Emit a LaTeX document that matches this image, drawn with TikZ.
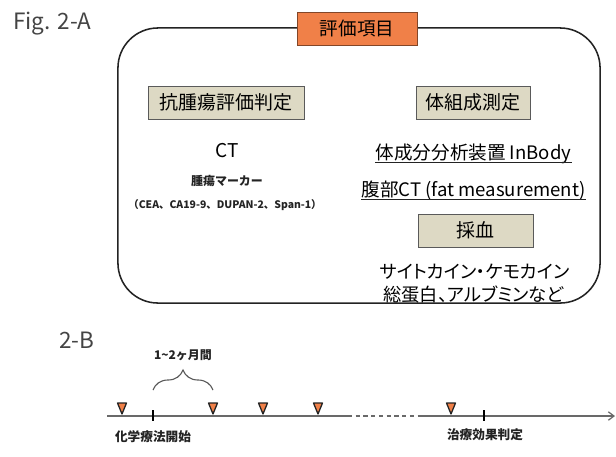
\documentclass[tikz,border=0pt]{standalone}
\usepackage{fontspec}
\setmainfont{Noto Sans CJK JP}
\newfontfamily\jpprop[RawFeature=+palt]{Noto Sans CJK JP}
\usepackage{xcolor}
\definecolor{evalorange}{RGB}{240,128,72}
\definecolor{evalorangedark}{RGB}{130,70,40}
\definecolor{evaltan}{RGB}{221,217,196}
\definecolor{evalgray}{RGB}{90,90,90}
\definecolor{evalline}{RGB}{105,105,105}
\definecolor{evalink}{RGB}{35,35,35}
\usetikzlibrary{arrows.meta,positioning,decorations.pathreplacing,calc}

\begin{document}
\begin{tikzpicture}[x=0.025cm,y=-0.025cm,
  figlabel/.style={anchor=base west,inner sep=0pt,text=evalink!85,font=\fontsize{16}{18}\selectfont},
  evalframe/.style={draw=evalink,line width=1.1pt,rounded corners=1cm,
    minimum width=12.05cm,minimum height=6.875cm,inner sep=0pt},
  titlebox/.style={draw=evalorangedark,fill=evalorange,line width=0.6pt,
    minimum width=3cm,minimum height=0.825cm,inner sep=0pt,font=\fontsize{13.2}{16}\selectfont},
  headbox/.style={draw=evalgray,fill=evaltan,line width=0.6pt,
    minimum height=0.825cm,inner sep=0pt,font=\fontsize{13.5}{16}\selectfont},
  itemtext/.style={inner sep=0pt,text=black,font=\fontsize{13.2}{16}\selectfont},
  smalltext/.style={inner sep=0pt,text=evalink,font=\fontsize{8.5}{10}\selectfont\bfseries},
  uline/.style={draw=evalink,line width=0.6pt},
  timeline/.style={draw=evalline,line width=0.9pt},
  tickmark/.style={fill=black,minimum width=1.4pt,minimum height=0.275cm,inner sep=0pt},
  trimark/.style={draw=evalink,fill=evalorange,line width=0.9pt,line join=round},
  tllabel/.style={inner sep=0pt,text=evalink,font=\fontsize{9}{11}\selectfont\bfseries}
]
\useasboundingbox (0,0) rectangle (616,456);

% Fig. 2-A: evaluation items
\node[figlabel] (figA) at (13,29) {Fig. 2-A};
\node[evalframe] (frame) at (359,165.5) {};
\node[titlebox] (evaltitle) at (357,28.5) {評価項目};

% left column: anti-tumour evaluation
\node[headbox,minimum width=3.9cm] (tumorhead) at (226,102.5) {抗腫瘍評価判定};
\node[itemtext,font=\fontsize{13.5}{16}\selectfont] (ct) at (227,151) {CT};
\node[smalltext] (marker) at (227,181) {腫瘍マーカー};
\node[smalltext,font=\fontsize{7.4}{9}\selectfont\bfseries] (markerlist) at (225,205)
  {（CEA、CA19-9、DUPAN-2、Span-1）};

% right column: body composition and blood
\node[headbox,minimum width=2.85cm] (bodyhead) at (473,102.5) {体組成測定};
\node[itemtext,anchor=base] (inbody) at (473.5,159.5) {体成分分析装置 InBody};
\draw[uline] ([yshift=-2pt]inbody.base west) -- ([yshift=-2pt]inbody.base east);
\node[itemtext,anchor=base] (fatct) at (473.5,196.5) {腹部CT (fat measurement)};
\draw[uline] ([yshift=-2pt]fatct.base west) -- ([yshift=-2pt]fatct.base east);
\node[headbox,minimum width=2.875cm] (bloodhead) at (475.5,230.5) {採血};
\node[itemtext,font=\fontsize{13}{15}\selectfont\jpprop] (cytokine) at (474.5,272) {サイトカイン・ケモカイン};
\node[itemtext,font=\fontsize{13}{15}\selectfont\jpprop] (protein) at (473.5,294) {総蛋白、アルブミンなど};

% Fig. 2-B: timeline
\node[figlabel] (figB) at (59,348) {2-B};
\coordinate (tlstart) at (107,416);
\coordinate (gapA) at (348,416);
\coordinate (gapB) at (418,416);
\coordinate (tlend) at (615,416);
\draw[timeline] (tlstart) -- (gapA);
\draw[timeline,dash pattern=on 3pt off 2.5pt] (gapA) -- (gapB);
\draw[timeline,-{Straight Barb[length=4pt,width=6pt]}] (gapB) -- (tlend);

% measurement points
\foreach \tx in {122,213,263,318,451}
  \draw[trimark] (\tx,414) -- ++(-4.5,-11) -- ++(9,0) -- cycle;

\node[tickmark] (chemostart) at (153,415.5) {};
\node[tickmark] (effecteval) at (484,415.5) {};
\node[tllabel] (chemolabel) at (153,437) {化学療法開始};
\node[tllabel] (effectlabel) at (485,435) {治療効果判定};

% interval brace
\coordinate (braceL) at (153,390);
\coordinate (braceR) at (213,390);
\draw[evalgray,line width=0.8pt,decorate,decoration={brace,amplitude=0.5cm}] (braceL) -- (braceR);
\node[tllabel,font=\fontsize{8.5}{10}\selectfont\bfseries] (intervallabel) at (183,355) {1\textasciitilde 2ヶ月間};
\end{tikzpicture}
\end{document}
